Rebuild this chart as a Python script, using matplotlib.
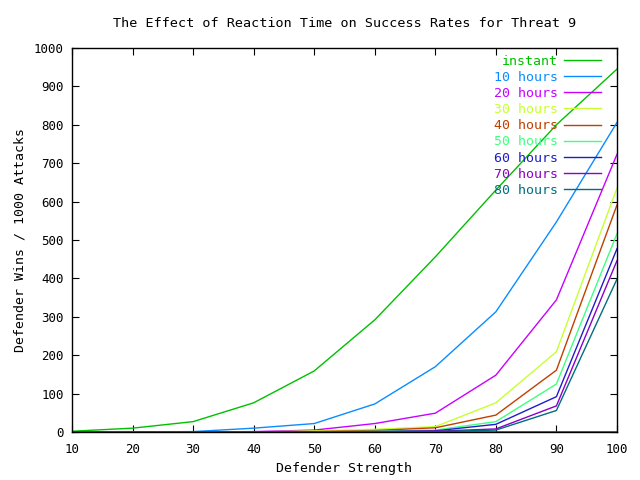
import matplotlib
matplotlib.use("Agg")
import matplotlib.pyplot as plt

# defender strength on x axis
strength = [10, 20, 30, 40, 50, 60, 70, 80, 90, 100]

# wins per 1000 attacks for each reaction time
instant = [2, 10, 27, 76, 159, 292, 456, 630, 800, 945]
h10 = [0, 0, 1, 10, 22, 73, 170, 313, 547, 806]
h20 = [0, 0, 0, 1, 5, 22, 49, 148, 344, 723]
h30 = [0, 0, 0, 0, 3, 7, 14, 76, 209, 635]
h40 = [0, 0, 0, 0, 1, 4, 11, 44, 161, 591]
h50 = [0, 0, 0, 0, 0, 2, 5, 27, 125, 516]
h60 = [0, 0, 0, 0, 0, 1, 3, 20, 92, 477]
h70 = [0, 0, 0, 0, 0, 1, 2, 8, 68, 446]
h80 = [0, 0, 0, 0, 0, 0, 1, 5, 56, 398]
zero = [0] * 10

labels = ["instant", "10 hours", "20 hours", "30 hours", "40 hours",
          "50 hours", "60 hours", "70 hours", "80 hours"]
series = [instant, h10, h20, h30, h40, h50, h60, h70, h80]
colors = ["#00c000", "#0a8cff", "#c800ff", "#c8ff32", "#c04000",
          "#40ff80", "#1e1ec8", "#8c00c8", "#006e80"]

plt.rcParams['font.family'] = ['DejaVu Sans Mono']
fig = plt.figure(figsize=(6.4, 4.8), dpi=100)
ax = fig.add_axes([0.1125, 0.1, 0.8515, 0.8])

# red zero line drawn first, like gnuplot
ax.plot(strength, zero, color="red", lw=1.2)
for vals, lab, col in zip(series, labels, colors):
    ax.plot(strength, vals, color=col, lw=1, label=lab)

ax.set_xlim(10, 100)
ax.set_ylim(0, 1000)
ax.set_xticks(range(10, 101, 10))
ax.set_yticks(range(0, 1001, 100))
ax.tick_params(direction="in", top=True, right=True, labelsize=9, length=5)
ax.tick_params(axis="x", pad=8)
ax.tick_params(axis="y", pad=6)
for s in ax.spines.values():
    s.set_linewidth(1)

ax.set_title("The Effect of Reaction Time on Success Rates for Threat 9",
             fontsize=9.7, pad=15)
ax.set_xlabel("Defender Strength", fontsize=9.5, labelpad=4)
ax.set_ylabel("Defender Wins / 1000 Attacks", fontsize=9.5, labelpad=5)

leg = ax.legend(loc="upper right", bbox_to_anchor=(0.983, 1.0),
                frameon=False, markerfirst=False,
                labelcolor="linecolor", fontsize=9.5, handlelength=2.8,
                labelspacing=0.24, borderaxespad=0.1, handletextpad=0.5)
for t in leg.get_texts():
    t.set_ha("right")

fig.savefig("out.png")
